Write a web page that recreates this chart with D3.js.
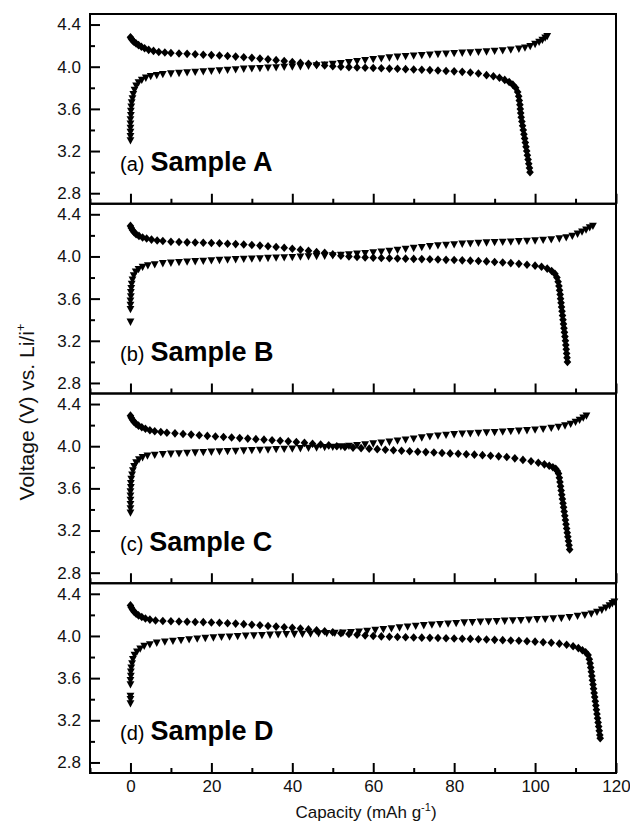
<!DOCTYPE html>
<html>
<head>
<meta charset="utf-8">
<script src="https://cdn.jsdelivr.net/npm/d3@7"></script>
<style>
  html, body { margin: 0; padding: 0; background: #fff; }
  svg { display: block; }
</style>
</head>
<body>
<div id="chart"></div>
<script>
// ---- data (capacity mAh/g, voltage V) ----
const capTicks = [0, 20, 40, 60, 80, 100, 120];
const capMinor = [-10, 10, 30, 50, 70, 90, 110];
const voltTicks = [2.8, 3.2, 3.6, 4.0, 4.4];
const voltMinor = [3.0, 3.4, 3.8, 4.2];
const panelLetters = ["(a)", "(b)", "(c)", "(d)"];
const sampleNames = ["Sample A", "Sample B", "Sample C", "Sample D"];

const chargeA = [[0,3.30],[0,3.34],[0,3.38],[0,3.42],[0,3.46],[0,3.50],[0.1,3.54],[0.1,3.58],[0.2,3.62],[0.3,3.66],[0.5,3.70],[0.7,3.74],[1.0,3.78],[1.4,3.82],[2.0,3.85],[2.8,3.875],[3.8,3.895],[5,3.91],[6.5,3.92],[8,3.93],[10,3.935],[12,3.94],[14,3.945],[16,3.95],[18,3.955],[20,3.96],[22,3.965],[24,3.97],[26,3.975],[28,3.98],[30,3.983],[32,3.987],[34,3.99],[36,3.994],[38,3.997],[40,4.0],[42,4.003],[44,4.007],[46,4.012],[48,4.018],[50,4.025],[52,4.033],[54,4.042],[56,4.052],[58,4.062],[60,4.071],[62,4.079],[64,4.087],[66,4.094],[68,4.10],[70,4.105],[72,4.11],[74,4.115],[76,4.12],[78,4.124],[80,4.128],[82,4.132],[84,4.136],[86,4.14],[88,4.144],[90,4.149],[92,4.155],[94,4.162],[96,4.17],[97.5,4.18],[98.8,4.195],[100,4.215],[101,4.235],[101.8,4.255],[102.5,4.275],[103,4.29]];
const dischargeA = [[0,4.28],[0.2,4.265],[0.5,4.25],[0.9,4.235],[1.4,4.22],[2,4.205],[2.7,4.19],[3.5,4.175],[4.5,4.16],[5.7,4.15],[7,4.14],[8.5,4.135],[10,4.13],[12,4.126],[14,4.122],[16,4.118],[18,4.114],[20,4.11],[22,4.106],[24,4.101],[26,4.096],[28,4.09],[30,4.084],[32,4.077],[34,4.07],[36,4.062],[38,4.053],[40,4.045],[42,4.036],[44,4.028],[46,4.02],[48,4.012],[50,4.005],[52,4.0],[54,3.996],[56,3.993],[58,3.99],[60,3.988],[62,3.985],[64,3.982],[66,3.98],[68,3.977],[70,3.974],[72,3.971],[74,3.968],[76,3.964],[78,3.96],[80,3.956],[82,3.951],[84,3.945],[86,3.935],[88,3.92],[89.7,3.91],[91.2,3.895],[92.5,3.875],[93.6,3.855],[94.5,3.83],[95.2,3.80],[95.7,3.76],[95.95,3.72],[96.1,3.68],[96.25,3.64],[96.35,3.60],[96.45,3.56],[96.57,3.52],[96.74,3.48],[96.91,3.44],[97.08,3.40],[97.25,3.36],[97.42,3.32],[97.59,3.28],[97.76,3.24],[97.93,3.20],[98.1,3.16],[98.27,3.12],[98.44,3.08],[98.61,3.04],[98.75,3.0]];

const chargeB = [[0,3.38],[0,3.50],[0,3.54],[0,3.58],[0.1,3.62],[0.1,3.66],[0.2,3.70],[0.3,3.74],[0.5,3.78],[0.8,3.82],[1.3,3.855],[2,3.88],[3,3.90],[4.3,3.915],[6,3.925],[8,3.935],[10,3.94],[12,3.945],[14,3.95],[16,3.954],[18,3.958],[20,3.962],[22,3.966],[24,3.97],[26,3.973],[28,3.976],[30,3.979],[32,3.982],[34,3.985],[36,3.988],[38,3.991],[40,3.994],[42,3.997],[44,4.0],[46,4.003],[48,4.006],[50,4.01],[52,4.014],[54,4.019],[56,4.025],[58,4.031],[60,4.038],[62,4.045],[64,4.053],[66,4.062],[68,4.071],[70,4.08],[72,4.089],[74,4.097],[76,4.104],[78,4.11],[80,4.115],[82,4.12],[84,4.124],[86,4.128],[88,4.132],[90,4.135],[92,4.138],[94,4.141],[96,4.144],[98,4.147],[100,4.151],[102,4.156],[104,4.162],[106,4.17],[107.7,4.18],[109.2,4.195],[110.5,4.215],[111.6,4.235],[112.6,4.255],[113.5,4.275],[114.3,4.29]];
const dischargeB = [[0,4.29],[0.2,4.27],[0.5,4.25],[0.9,4.23],[1.4,4.21],[2.1,4.195],[3,4.18],[4,4.17],[5.2,4.16],[6.6,4.152],[8,4.146],[10,4.14],[12,4.137],[14,4.134],[16,4.132],[18,4.13],[20,4.128],[22,4.125],[24,4.121],[26,4.117],[28,4.113],[30,4.108],[32,4.103],[34,4.097],[36,4.09],[38,4.082],[40,4.073],[42,4.063],[44,4.053],[46,4.043],[48,4.034],[50,4.02],[52,4.007],[54,4.0],[56,3.995],[58,3.991],[60,3.988],[62,3.985],[64,3.983],[66,3.981],[68,3.979],[70,3.977],[72,3.975],[74,3.973],[76,3.971],[78,3.968],[80,3.966],[82,3.963],[84,3.96],[86,3.957],[88,3.953],[90,3.948],[92,3.943],[94,3.937],[96,3.93],[98,3.922],[100,3.913],[101.6,3.902],[103,3.885],[104.1,3.862],[104.9,3.835],[105.4,3.80],[105.7,3.76],[105.9,3.72],[106.05,3.68],[106.2,3.64],[106.3,3.60],[106.42,3.56],[106.54,3.52],[106.66,3.48],[106.78,3.44],[106.9,3.40],[107.02,3.36],[107.14,3.32],[107.26,3.28],[107.38,3.24],[107.5,3.20],[107.6,3.16],[107.7,3.12],[107.8,3.08],[107.9,3.04],[108,3.0]];

const chargeC = [[0,3.37],[0,3.41],[0,3.45],[0,3.49],[0,3.53],[0,3.57],[0.1,3.61],[0.1,3.65],[0.2,3.69],[0.4,3.73],[0.6,3.77],[0.9,3.81],[1.4,3.845],[2.1,3.875],[3,3.895],[4.2,3.91],[6,3.918],[8,3.924],[10,3.928],[12,3.932],[14,3.936],[16,3.94],[18,3.944],[20,3.947],[22,3.95],[24,3.953],[26,3.956],[28,3.959],[30,3.962],[32,3.965],[34,3.968],[36,3.971],[38,3.974],[40,3.977],[42,3.98],[44,3.983],[46,3.987],[48,3.99],[50,3.994],[52,3.998],[54,4.003],[56,4.01],[58,4.017],[60,4.025],[62,4.033],[64,4.042],[66,4.052],[68,4.062],[70,4.072],[72,4.082],[74,4.092],[76,4.1],[78,4.107],[80,4.113],[82,4.118],[84,4.122],[86,4.126],[88,4.13],[90,4.134],[92,4.138],[94,4.142],[96,4.146],[98,4.151],[100,4.157],[102,4.164],[104,4.173],[105.8,4.183],[107.4,4.196],[108.8,4.212],[110,4.23],[111,4.25],[111.9,4.27],[112.7,4.29]];
const dischargeC = [[0,4.29],[0.2,4.27],[0.5,4.25],[0.9,4.23],[1.4,4.21],[2,4.195],[2.8,4.18],[3.7,4.165],[4.8,4.152],[6,4.142],[7.5,4.135],[9,4.128],[11,4.122],[13,4.116],[15,4.11],[17,4.104],[19,4.098],[21,4.092],[23,4.087],[25,4.082],[27,4.077],[29,4.072],[31,4.067],[33,4.062],[35,4.057],[37,4.052],[39,4.046],[41,4.039],[43,4.032],[45,4.024],[47,4.016],[49,4.008],[51,4.0],[53,3.993],[55,3.987],[57,3.982],[59,3.977],[61,3.972],[63,3.967],[65,3.962],[67,3.957],[69,3.952],[71,3.948],[73,3.944],[75,3.94],[77,3.936],[79,3.932],[81,3.928],[83,3.924],[85,3.92],[87,3.915],[89,3.91],[91,3.904],[93,3.897],[95,3.885],[97,3.87],[99,3.857],[100.8,3.843],[102.3,3.828],[103.5,3.815],[104.4,3.80],[105.1,3.785],[105.5,3.765],[105.8,3.74],[106.0,3.70],[106.15,3.66],[106.3,3.62],[106.45,3.58],[106.6,3.54],[106.75,3.50],[106.9,3.46],[107.05,3.42],[107.2,3.38],[107.35,3.34],[107.5,3.30],[107.65,3.26],[107.8,3.22],[107.95,3.18],[108.1,3.14],[108.25,3.10],[108.4,3.06],[108.55,3.02]];

const chargeD = [[0,3.36],[0,3.40],[0,3.43],[0,3.54],[0,3.58],[0.1,3.62],[0.1,3.66],[0.2,3.70],[0.4,3.74],[0.6,3.78],[1.0,3.82],[1.6,3.85],[2.4,3.88],[3.4,3.905],[4.8,3.92],[6.5,3.935],[8.5,3.945],[10.5,3.953],[12.5,3.96],[14.5,3.967],[16.5,3.974],[18.5,3.98],[20.5,3.985],[22.5,3.99],[24.5,3.994],[26.5,3.998],[28.5,4.002],[30.5,4.005],[32.5,4.008],[34.5,4.011],[36.5,4.014],[38.5,4.016],[40.5,4.018],[42.5,4.02],[44.5,4.022],[46.5,4.024],[48.5,4.026],[50.5,4.028],[52.5,4.031],[54.5,4.035],[56.5,4.041],[58.5,4.048],[60.5,4.056],[62.5,4.064],[64.5,4.072],[66.5,4.08],[68.5,4.088],[70.5,4.095],[72.5,4.101],[74.5,4.107],[76.5,4.112],[78.5,4.117],[80.5,4.122],[82.5,4.127],[84.5,4.131],[86.5,4.135],[88.5,4.138],[90.5,4.141],[92.5,4.144],[94.5,4.147],[96.5,4.15],[98.5,4.154],[100.5,4.158],[102.5,4.162],[104.5,4.166],[106.5,4.17],[108.5,4.178],[110.5,4.19],[112.3,4.20],[113.9,4.212],[115.3,4.228],[116.5,4.248],[117.5,4.268],[118.4,4.29],[119.1,4.31],[119.6,4.325]];
const dischargeD = [[0,4.29],[0.2,4.27],[0.5,4.25],[0.9,4.23],[1.4,4.21],[2,4.195],[2.8,4.18],[3.7,4.165],[4.8,4.155],[6.2,4.147],[8,4.142],[10,4.139],[12,4.137],[14,4.135],[16,4.133],[18,4.131],[20,4.128],[22,4.125],[24,4.121],[26,4.117],[28,4.112],[30,4.107],[32,4.101],[34,4.095],[36,4.089],[38,4.083],[40,4.077],[42,4.07],[44,4.062],[46,4.053],[48,4.044],[50,4.035],[52,4.026],[54,4.018],[56,4.011],[58,4.005],[60,4.0],[62,3.996],[64,3.993],[66,3.99],[68,3.988],[70,3.986],[72,3.984],[74,3.982],[76,3.98],[78,3.978],[80,3.976],[82,3.974],[84,3.972],[86,3.969],[88,3.966],[90,3.963],[92,3.96],[94,3.957],[96,3.954],[98,3.95],[100,3.946],[102,3.941],[104,3.935],[106,3.927],[107.8,3.917],[109.4,3.903],[110.7,3.885],[111.7,3.865],[112.5,3.845],[113.1,3.82],[113.4,3.78],[113.6,3.74],[113.75,3.70],[113.9,3.66],[114.04,3.62],[114.18,3.58],[114.32,3.54],[114.46,3.50],[114.6,3.46],[114.74,3.42],[114.88,3.38],[115.02,3.34],[115.16,3.30],[115.3,3.26],[115.44,3.22],[115.58,3.18],[115.72,3.14],[115.86,3.10],[116,3.06],[116.1,3.03]];

const chargeCurves = [chargeA, chargeB, chargeC, chargeD];
const dischargeCurves = [dischargeA, dischargeB, dischargeC, dischargeD];

// ---- layout ----
const width = 630;
const height = 823;
const margin = { top: 14, right: 14, bottom: 50, left: 90 };
const plotW = width - margin.left - margin.right;
const panelH = (height - margin.top - margin.bottom) / 4;
const font = "'Liberation Sans', Arial, sans-serif";

const x = d3.scaleLinear().domain([-10, 120]).range([0, plotW]);
const y = d3.scaleLinear().domain([2.7, 4.5]).range([panelH, 0]);

const triDown = "M-3.9,-3.2L3.9,-3.2L0,4.1Z";
const diamond = "M0,-4.3L3.8,0L0,4.3L-3.8,0Z";

const svg = d3.select("#chart")
  .append("svg")
  .attr("width", width)
  .attr("height", height)
  .attr("font-family", font);

sampleNames.forEach((name, i) => {
  const g = svg.append("g")
    .attr("transform", `translate(${margin.left}, ${margin.top + i * panelH})`);

  // markers
  g.append("g")
    .selectAll("path")
    .data(dischargeCurves[i])
    .join("path")
    .attr("d", diamond)
    .attr("transform", d => `translate(${x(d[0])}, ${y(d[1])})`)
    .attr("fill", "#000");

  g.append("g")
    .selectAll("path")
    .data(chargeCurves[i])
    .join("path")
    .attr("d", triDown)
    .attr("transform", d => `translate(${x(d[0])}, ${y(d[1])})`)
    .attr("fill", "#000");

  // y axis, ticks pointing in
  g.append("g")
    .call(d3.axisLeft(y).tickValues(voltTicks).tickFormat(d3.format(".1f"))
      .tickSizeInner(-10).tickSizeOuter(0).tickPadding(9));
  g.append("g")
    .call(d3.axisLeft(y).tickValues(voltMinor).tickFormat("")
      .tickSizeInner(-5).tickSizeOuter(0));

  // x axis on the bottom of each panel
  g.append("g")
    .attr("transform", `translate(0, ${panelH})`)
    .call(d3.axisBottom(x).tickValues(capTicks)
      .tickFormat(i === 3 ? d3.format("d") : "")
      .tickSizeInner(-10).tickSizeOuter(0).tickPadding(7));
  g.append("g")
    .attr("transform", `translate(0, ${panelH})`)
    .call(d3.axisBottom(x).tickValues(capMinor).tickFormat("")
      .tickSizeInner(-5).tickSizeOuter(0));

  g.selectAll(".domain").remove();
  g.selectAll(".tick line").attr("stroke", "#000").attr("stroke-width", 2);
  g.selectAll(".tick text")
    .attr("font-family", font)
    .attr("font-size", "17px")
    .attr("fill", "#111");

  // frame
  g.append("rect")
    .attr("width", plotW)
    .attr("height", panelH)
    .attr("fill", "none")
    .attr("stroke", "#000")
    .attr("stroke-width", 2);

  // panel label
  const label = g.append("text")
    .attr("x", 30)
    .attr("y", 157)
    .attr("fill", "#000");
  label.append("tspan")
    .attr("font-size", "20px")
    .text(panelLetters[i]);
  label.append("tspan")
    .attr("dx", 6)
    .attr("font-size", "27px")
    .attr("font-weight", "bold")
    .text(name);
});

// axis titles
const yTitle = svg.append("text")
  .attr("transform", "translate(34, 412) rotate(-90)")
  .attr("text-anchor", "middle")
  .attr("font-size", "21px")
  .attr("fill", "#111");
yTitle.append("tspan").text("Voltage (V) vs. Li/i");
yTitle.append("tspan").attr("font-size", "13px").attr("dy", -9).text("+");

const xTitle = svg.append("text")
  .attr("x", 366)
  .attr("y", 818)
  .attr("text-anchor", "middle")
  .attr("font-size", "17px")
  .attr("fill", "#111");
xTitle.append("tspan").text("Capacity (mAh g");
xTitle.append("tspan").attr("font-size", "11px").attr("dy", -7).text("-1");
xTitle.append("tspan").attr("dy", 7).text(")");
</script>
</body>
</html>
